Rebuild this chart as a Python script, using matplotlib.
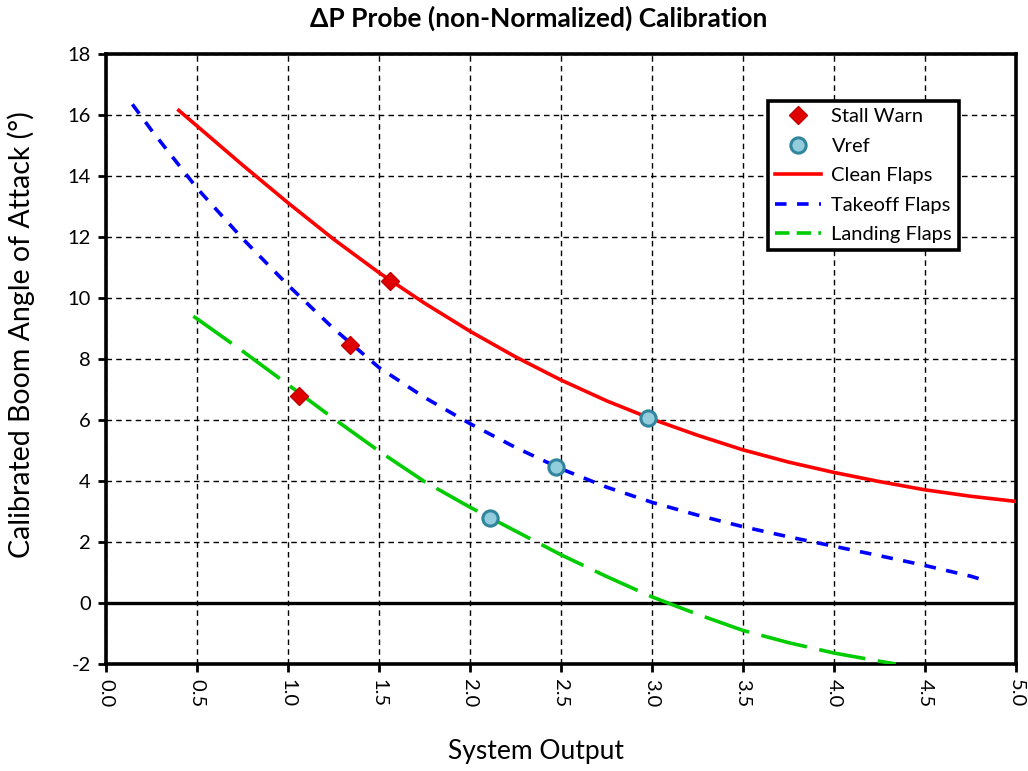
import numpy as np
import matplotlib
matplotlib.use("Agg")
import matplotlib.pyplot as plt
from matplotlib.lines import Line2D

plt.rcParams['font.family'] = ['Lato', 'DejaVu Sans']

# --- curve data ---
clean_x = [0.40, 0.50, 0.75, 1.00, 1.25, 1.50, 1.75, 2.00, 2.25, 2.50, 2.75, 3.00,
           3.25, 3.50, 3.75, 4.00, 4.25, 4.50, 4.75, 5.00]
clean_y = [16.15, 15.64, 14.36, 13.12, 11.93, 10.83, 9.83, 8.91, 8.07, 7.31, 6.63, 6.03,
           5.50, 5.02, 4.62, 4.28, 3.98, 3.71, 3.50, 3.33]

takeoff_x = [0.145, 0.25, 0.50, 0.75, 1.00, 1.25, 1.50, 1.75, 2.00, 2.25, 2.50, 2.75,
             3.00, 3.25, 3.50, 3.75, 4.00, 4.25, 4.50, 4.75, 4.84]
takeoff_y = [16.35, 15.50, 13.60, 11.95, 10.42, 9.00, 7.72, 6.74, 5.88, 5.10, 4.40, 3.80,
             3.30, 2.88, 2.50, 2.17, 1.86, 1.55, 1.23, 0.88, 0.72]

landing_x = [0.48, 0.50, 0.75, 1.00, 1.25, 1.50, 1.75, 2.00, 2.25, 2.50, 2.75, 3.00,
             3.25, 3.50, 3.75, 4.00, 4.25, 4.34]
landing_y = [9.40, 9.32, 8.26, 7.16, 6.05, 4.98, 3.98, 3.14, 2.36, 1.58, 0.87, 0.20,
             -0.37, -0.90, -1.30, -1.64, -1.91, -2.00]

stall_x = [1.06, 1.34, 1.56]
stall_y = [6.80, 8.47, 10.55]

vref_x = [2.11, 2.47, 2.98]
vref_y = [2.79, 4.47, 6.06]

x_ticks = [0.0, 0.5, 1.0, 1.5, 2.0, 2.5, 3.0, 3.5, 4.0, 4.5, 5.0]
y_ticks = [-2, 0, 2, 4, 6, 8, 10, 12, 14, 16, 18]

RED, BLUE, GREEN = "#ff0000", "#0000ff", "#00cc00"
stall_style = dict(linestyle="none", marker="D", markersize=9.5,
                   markerfacecolor="#e00000", markeredgecolor="#c00000")
vref_style = dict(linestyle="none", marker="o", markersize=11,
                  markerfacecolor="#93cddd", markeredgecolor="#31859c", markeredgewidth=2.2)

fig = plt.figure(figsize=(10.28, 7.71), dpi=100)
ax = fig.add_axes([0.1031, 0.1388, 0.8852, 0.7912])

ax.plot(clean_x, clean_y, color=RED, linewidth=2.6, zorder=3)
ax.plot(takeoff_x, takeoff_y, color=BLUE, linewidth=2.6, dashes=(3.2, 2.9), zorder=3)
ax.plot(landing_x, landing_y, color=GREEN, linewidth=2.6, dashes=(13, 3.5), zorder=3)
ax.plot(stall_x, stall_y, zorder=4, **stall_style)
ax.plot(vref_x, vref_y, zorder=4, **vref_style)

ax.axhline(0, color="black", linewidth=2.4, zorder=2)

ax.set_xlim(0, 5)
ax.set_ylim(-2, 18)
ax.set_xticks(x_ticks)
ax.set_xticklabels([f"{v:.1f}" for v in x_ticks], rotation=-90, fontsize=14.5)
ax.set_yticks(y_ticks)
ax.set_yticklabels([str(v) for v in y_ticks], fontsize=14.5)
ax.tick_params(direction="out", length=6, width=2, pad=5)
ax.grid(True, color="black", linestyle=(0, (4, 3)), linewidth=1.0, zorder=1)
for s in ax.spines.values():
    s.set_linewidth(2.6)

fig.text(0.521, 0.025, "System Output", ha="center", va="center", fontsize=19)
fig.text(0.021, 0.5655, "Calibrated Boom Angle of Attack (°)", ha="center", va="center",
         rotation=90, fontsize=20.5)
fig.text(0.524, 0.976, "ΔP Probe (non-Normalized) Calibration", ha="center", va="center",
         fontsize=19, fontweight="bold")

handles = [
    Line2D([], [], **stall_style),
    Line2D([], [], **vref_style),
    Line2D([], [], color=RED, linewidth=2.6),
    Line2D([], [], color=BLUE, linewidth=2.6, dashes=(3.2, 2.9)),
    Line2D([], [], color=GREEN, linewidth=2.6, dashes=(4, 2)),
]
labels = ["Stall Warn", "Vref", "Clean Flaps", "Takeoff Flaps", "Landing Flaps"]
leg = ax.legend(handles, labels, loc="upper left", bbox_to_anchor=(0.7275, 0.923),
                fontsize=14.5, frameon=True, fancybox=False, framealpha=1,
                edgecolor="black", borderpad=0.35, labelspacing=0.62,
                handlelength=2.3, handletextpad=0.5, borderaxespad=0)
leg.get_frame().set_linewidth(2.6)
leg.set_zorder(5)

fig.savefig("out.png", dpi=100)
